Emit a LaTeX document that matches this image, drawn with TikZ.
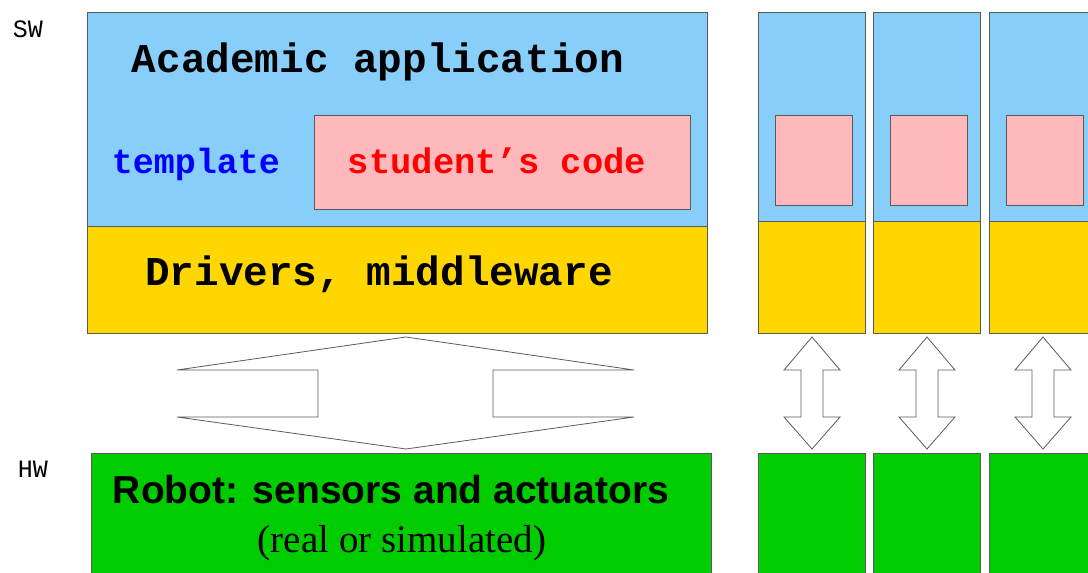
\documentclass[tikz,border=0pt]{standalone}
\usepackage{fontspec}
\setmainfont{Liberation Serif}
\newfontfamily\monof{Liberation Mono}
\newfontfamily\sansf{Liberation Sans}
\definecolor{skyb}{RGB}{135,206,250}
\definecolor{pinkc}{RGB}{255,185,188}
\definecolor{goldc}{RGB}{255,214,0}
\definecolor{greenc}{RGB}{0,204,0}
\definecolor{edgec}{RGB}{90,90,90}
\begin{document}
\begin{tikzpicture}[x=1pt,y=-1pt,
  box/.style={draw=edgec,line width=0.8pt,inner sep=0pt,outer sep=0pt,anchor=north west},
  arrowshape/.style={draw=edgec,line width=0.8pt,fill=white,line join=miter},
  lbl/.style={inner sep=0pt,anchor=base}]
\useasboundingbox (0,0) rectangle (1088,573);
% main stack
\node[box,fill=skyb,minimum width=620pt,minimum height=214pt] (app) at (87,12) {};
\node[box,fill=pinkc,minimum width=376pt,minimum height=94pt] (code) at (314,115) {};
\node[box,fill=goldc,minimum width=620pt,minimum height=107pt] (drv) at (87,226) {};
\node[box,fill=greenc,minimum width=620pt,minimum height=130pt] (robot) at (91,453) {};
% texts
\node[lbl] (tsw) at (28,37) {\monof\fontsize{25}{25}\selectfont SW};
\node[lbl] (thw) at (33,477) {\monof\fontsize{25}{25}\selectfont HW};
\node[lbl] (tapp) at (378,72) {\monof\bfseries\fontsize{41}{41}\selectfont Academic application};
\node[lbl,text=blue] (ttpl) at (196,173) {\monof\bfseries\fontsize{35}{35}\selectfont template};
\node[lbl,text=red] (tcode) at (497,173) {\monof\bfseries\fontsize{35.5}{35.5}\selectfont student’s code};
\node[lbl] (tdrv) at (379,285) {\monof\bfseries\fontsize{41}{41}\selectfont Drivers, middleware};
\node[lbl] (trob) at (391,503) {\sansf\bfseries\fontsize{39}{39}\selectfont Robot: sensors and actuators};
\node[lbl] (tsim) at (402,552) {\fontsize{39}{39}\selectfont (real or simulated)};
% big double arrow
\draw[arrowshape] (406,337) -- (634,370) -- (493,370) -- (493,417) -- (634,417)
  -- (406,449) -- (177,417) -- (318,417) -- (318,370) -- (177,370) -- cycle;
% right columns
\foreach \i/\x/\p/\c in {1/758/775/812, 2/873/890/927, 3/989/1006/1043}{
  \node[box,fill=skyb,minimum width=107pt,minimum height=209pt] (a\i) at (\x,12) {};
  \node[box,fill=pinkc,minimum width=77pt,minimum height=90pt] (p\i) at (\p,115) {};
  \node[box,fill=goldc,minimum width=107pt,minimum height=112pt] (d\i) at (\x,221) {};
  \node[box,fill=greenc,minimum width=107pt,minimum height=130pt] (g\i) at (\x,453) {};
  \draw[arrowshape] (\c,337) -- (\c+28,370) -- (\c+11,370) -- (\c+11,417) -- (\c+28,417)
    -- (\c,449) -- (\c-28,417) -- (\c-11,417) -- (\c-11,370) -- (\c-28,370) -- cycle;
}
\end{tikzpicture}
\end{document}
